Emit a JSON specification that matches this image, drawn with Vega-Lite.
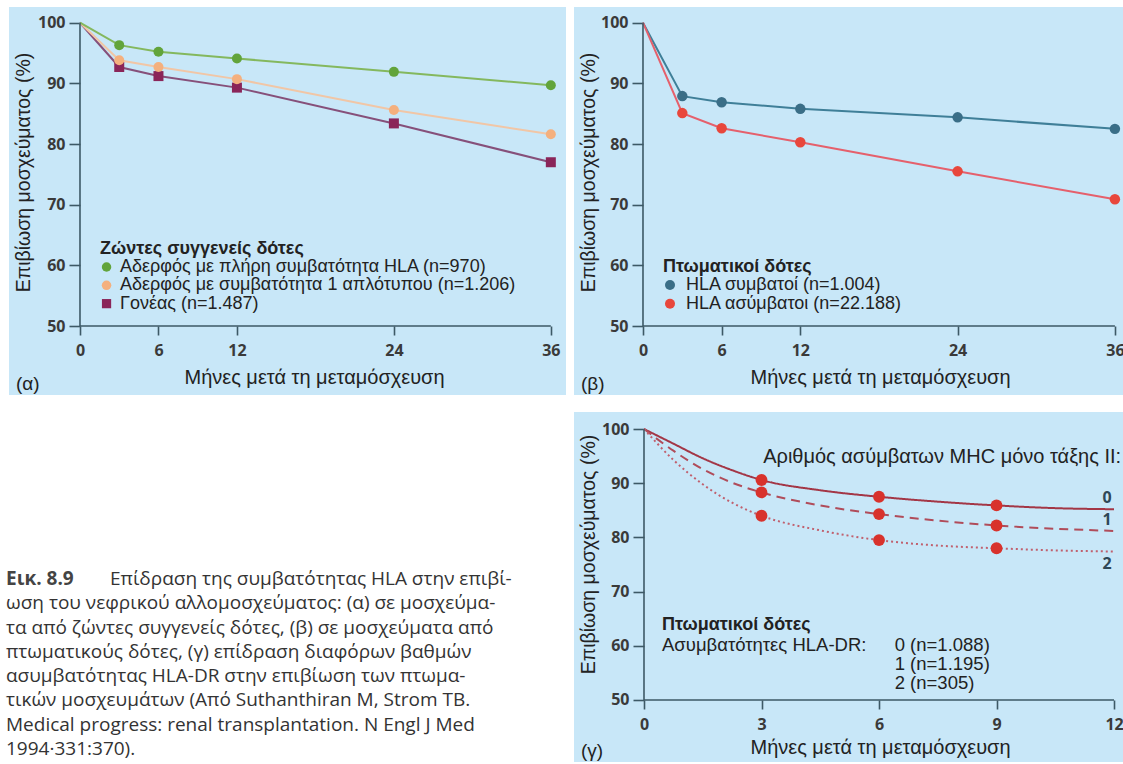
{
  "$schema": "https://vega.github.io/schema/vega-lite/v6.json",
  "background": "white",
  "padding": {"left": 6, "top": 7, "right": 0, "bottom": 0},
  "config": {
    "view": {"stroke": null},
    "font": "Liberation Sans",
    "axis": {"domain": false, "grid": false, "tickColor": "#3d5966", "tickWidth": 1.6, "labelFont": "Open Sans", "labelFontWeight": "bold", "labelFontSize": 16, "labelColor": "#3a3a3a", "titleFont": "Liberation Sans", "titleFontSize": 20, "titleFontWeight": "normal", "titleColor": "#222", "titleBaseline": "middle", "titleAlign": "center"},
    "axisX": {"tickSize": 9, "labelPadding": 7},
    "axisY": {"tickSize": 11, "labelPadding": 4, "titleAngle": -90, "titleFontSize": 19.5},
    "text": {"font": "Liberation Sans", "color": "#222", "align": "left", "baseline": "middle"}
  },
  "columns": 2,
  "align": "each",
  "spacing": {"row": 17, "column": 8},
  "resolve": {"scale": {"color": "independent", "stroke": "independent", "shape": "independent", "strokeDash": "independent"}},
  "datasets": {
    "alpha": [
      {"s": "Γονέας (n=1.487)", "m": 0, "v": 100},
      {"s": "Γονέας (n=1.487)", "m": 3, "v": 92.7},
      {"s": "Γονέας (n=1.487)", "m": 6, "v": 91.2},
      {"s": "Γονέας (n=1.487)", "m": 12, "v": 89.3},
      {"s": "Γονέας (n=1.487)", "m": 24, "v": 83.4},
      {"s": "Γονέας (n=1.487)", "m": 36, "v": 77.0},
      {"s": "Αδερφός με συμβατότητα 1 απλότυπου (n=1.206)", "m": 0, "v": 100},
      {"s": "Αδερφός με συμβατότητα 1 απλότυπου (n=1.206)", "m": 3, "v": 93.8},
      {"s": "Αδερφός με συμβατότητα 1 απλότυπου (n=1.206)", "m": 6, "v": 92.7},
      {"s": "Αδερφός με συμβατότητα 1 απλότυπου (n=1.206)", "m": 12, "v": 90.7},
      {"s": "Αδερφός με συμβατότητα 1 απλότυπου (n=1.206)", "m": 24, "v": 85.6},
      {"s": "Αδερφός με συμβατότητα 1 απλότυπου (n=1.206)", "m": 36, "v": 81.6},
      {"s": "Αδερφός με πλήρη συμβατότητα HLA (n=970)", "m": 0, "v": 100},
      {"s": "Αδερφός με πλήρη συμβατότητα HLA (n=970)", "m": 3, "v": 96.3},
      {"s": "Αδερφός με πλήρη συμβατότητα HLA (n=970)", "m": 6, "v": 95.2},
      {"s": "Αδερφός με πλήρη συμβατότητα HLA (n=970)", "m": 12, "v": 94.1},
      {"s": "Αδερφός με πλήρη συμβατότητα HLA (n=970)", "m": 24, "v": 91.9},
      {"s": "Αδερφός με πλήρη συμβατότητα HLA (n=970)", "m": 36, "v": 89.7}
    ],
    "beta": [
      {"s": "HLA συμβατοί (n=1.004)", "m": 0, "v": 100},
      {"s": "HLA συμβατοί (n=1.004)", "m": 3, "v": 87.9},
      {"s": "HLA συμβατοί (n=1.004)", "m": 6, "v": 86.9},
      {"s": "HLA συμβατοί (n=1.004)", "m": 12, "v": 85.8},
      {"s": "HLA συμβατοί (n=1.004)", "m": 24, "v": 84.4},
      {"s": "HLA συμβατοί (n=1.004)", "m": 36, "v": 82.5},
      {"s": "HLA ασύμβατοι (n=22.188)", "m": 0, "v": 100},
      {"s": "HLA ασύμβατοι (n=22.188)", "m": 3, "v": 85.1},
      {"s": "HLA ασύμβατοι (n=22.188)", "m": 6, "v": 82.6},
      {"s": "HLA ασύμβατοι (n=22.188)", "m": 12, "v": 80.3},
      {"s": "HLA ασύμβατοι (n=22.188)", "m": 24, "v": 75.5},
      {"s": "HLA ασύμβατοι (n=22.188)", "m": 36, "v": 70.9}
    ],
    "gamma": [
      {"s": "0", "m": 0, "v": 100},
      {"s": "0", "m": 0.75, "v": 97.3},
      {"s": "0", "m": 1.5, "v": 94.6},
      {"s": "0", "m": 2.25, "v": 92.4},
      {"s": "0", "m": 3, "v": 90.6},
      {"s": "0", "m": 4.5, "v": 88.7},
      {"s": "0", "m": 6, "v": 87.5},
      {"s": "0", "m": 7.5, "v": 86.6},
      {"s": "0", "m": 9, "v": 85.9},
      {"s": "0", "m": 10.5, "v": 85.4},
      {"s": "0", "m": 12, "v": 85.2},
      {"s": "1", "m": 0, "v": 100},
      {"s": "1", "m": 0.75, "v": 96.0},
      {"s": "1", "m": 1.5, "v": 92.6},
      {"s": "1", "m": 2.25, "v": 90.1},
      {"s": "1", "m": 3, "v": 88.3},
      {"s": "1", "m": 4.5, "v": 85.9},
      {"s": "1", "m": 6, "v": 84.3},
      {"s": "1", "m": 7.5, "v": 83.1},
      {"s": "1", "m": 9, "v": 82.2},
      {"s": "1", "m": 10.5, "v": 81.6},
      {"s": "1", "m": 12, "v": 81.2},
      {"s": "2", "m": 0, "v": 100},
      {"s": "2", "m": 0.75, "v": 94.3},
      {"s": "2", "m": 1.5, "v": 89.8},
      {"s": "2", "m": 2.25, "v": 86.4},
      {"s": "2", "m": 3, "v": 84.0},
      {"s": "2", "m": 4.5, "v": 81.3},
      {"s": "2", "m": 6, "v": 79.5},
      {"s": "2", "m": 7.5, "v": 78.5},
      {"s": "2", "m": 9, "v": 78.0},
      {"s": "2", "m": 10.5, "v": 77.6},
      {"s": "2", "m": 12, "v": 77.4}
    ],
    "caption": [
      {"line": 1, "part": "label", "text": "Εικ. 8.9"},
      {"line": 1, "part": "first", "text": "Επίδραση της συμβατότητας HLA στην επιβί-"},
      {"line": 2, "part": "body", "text": "ωση του νεφρικού αλλομοσχεύματος: (α) σε μοσχεύμα-"},
      {"line": 3, "part": "body", "text": "τα από ζώντες συγγενείς δότες, (β) σε μοσχεύματα από"},
      {"line": 4, "part": "body", "text": "πτωματικούς δότες, (γ) επίδραση διαφόρων βαθμών"},
      {"line": 5, "part": "body", "text": "ασυμβατότητας HLA-DR στην επιβίωση των πτωμα-"},
      {"line": 6, "part": "body", "text": "τικών μοσχευμάτων (Από Suthanthiran M, Strom TB."},
      {"line": 7, "part": "body", "text": "Medical progress: renal transplantation. N Engl J Med"},
      {"line": 8, "part": "body", "text": "1994·331:370)."}
    ]
  },
  "concat": [
    {
      "width": 557, "height": 388,
      "view": {"fill": "#c8e7f8", "stroke": null},
      "title": {"text": "(α)", "orient": "bottom", "anchor": "start", "frame": "group", "offset": -20, "dx": 7, "fontSize": 19, "fontWeight": "normal", "font": "Liberation Sans", "color": "#222"},
      "layer": [
        {
          "data": {"name": "alpha"},
          "mark": {"type": "line", "strokeWidth": 2},
          "encoding": {
            "x": {"field": "m", "type": "quantitative", "scale": {"domain": [-5.428, 37.16], "nice": false, "zero": false},
              "axis": {"offset": -69, "values": [0, 6, 12, 24, 36], "title": "Μήνες μετά τη μεταμόσχευση", "titleX": 305, "titleY": 51}},
            "y": {"field": "v", "type": "quantitative", "scale": {"domain": [38.63, 102.59], "nice": false, "zero": false},
              "axis": {"offset": -71, "values": [50, 60, 70, 80, 90, 100], "title": "Επιβίωση μοσχεύματος (%)", "titleX": -57, "titleY": 165}},
            "stroke": {"field": "s", "type": "nominal", "scale": {"domain": ["Αδερφός με πλήρη συμβατότητα HLA (n=970)", "Αδερφός με συμβατότητα 1 απλότυπου (n=1.206)", "Γονέας (n=1.487)"], "range": ["#84b85e", "#f1c6a6", "#86507a"]}, "legend": null}
          }
        },
        {
          "data": {"values": [{}]},
          "mark": {"type": "rule", "color": "#3d5966", "strokeWidth": 1.6},
          "encoding": {"x": {"datum": 0, "type": "quantitative"}, "y": {"datum": 50, "type": "quantitative"}, "y2": {"datum": 100}}
        },
        {
          "data": {"values": [{}]},
          "mark": {"type": "rule", "color": "#3d5966", "strokeWidth": 1.6},
          "encoding": {"x": {"datum": 0, "type": "quantitative"}, "x2": {"datum": 36}, "y": {"datum": 50, "type": "quantitative"}}
        },
        {
          "data": {"name": "alpha"},
          "transform": [{"filter": "datum.m > 0"}],
          "mark": {"type": "point", "filled": true, "opacity": 1, "size": 100},
          "encoding": {
            "x": {"field": "m", "type": "quantitative"},
            "y": {"field": "v", "type": "quantitative"},
            "color": {"field": "s", "type": "nominal", "scale": {"domain": ["Αδερφός με πλήρη συμβατότητα HLA (n=970)", "Αδερφός με συμβατότητα 1 απλότυπου (n=1.206)", "Γονέας (n=1.487)"], "range": ["#62a43b", "#f4b07e", "#8a2559"]}, "legend": null},
            "shape": {"field": "s", "type": "nominal", "scale": {"domain": ["Αδερφός με πλήρη συμβατότητα HLA (n=970)", "Αδερφός με συμβατότητα 1 απλότυπου (n=1.206)", "Γονέας (n=1.487)"], "range": ["circle", "circle", "square"]}, "legend": null}
          }
        },
        {
          "data": {"values": [{}]},
          "mark": {"type": "text", "text": "Ζώντες συγγενείς δότες", "fontSize": 18, "fontWeight": "bold"},
          "encoding": {"x": {"datum": 1.53, "type": "quantitative"}, "y": {"datum": 62.75, "type": "quantitative"}}
        },
        {
          "data": {"values": [{}]},
          "mark": {"type": "text", "text": ["Αδερφός με πλήρη συμβατότητα HLA (n=970)", "Αδερφός με συμβατότητα 1 απλότυπου (n=1.206)", "Γονέας (n=1.487)"], "fontSize": 18, "lineHeight": 18.3},
          "encoding": {"x": {"datum": 3.06, "type": "quantitative"}, "y": {"datum": 59.73, "type": "quantitative"}}
        },
        {
          "data": {"values": [{}]},
          "mark": {"type": "point", "shape": "circle", "filled": true, "opacity": 1, "size": 90, "color": "#62a43b"},
          "encoding": {"x": {"datum": 2.03, "type": "quantitative"}, "y": {"datum": 59.73, "type": "quantitative"}}
        },
        {
          "data": {"values": [{}]},
          "mark": {"type": "point", "shape": "circle", "filled": true, "opacity": 1, "size": 90, "color": "#f4b07e"},
          "encoding": {"x": {"datum": 2.03, "type": "quantitative"}, "y": {"datum": 56.71, "type": "quantitative"}}
        },
        {
          "data": {"values": [{}]},
          "mark": {"type": "point", "shape": "square", "filled": true, "opacity": 1, "size": 85, "color": "#8a2559"},
          "encoding": {"x": {"datum": 2.03, "type": "quantitative"}, "y": {"datum": 53.69, "type": "quantitative"}}
        }
      ]
    },
    {
      "width": 551, "height": 388,
      "view": {"fill": "#c8e7f8", "stroke": null},
      "title": {"text": "(β)", "orient": "bottom", "anchor": "start", "frame": "group", "offset": -20, "dx": 7, "fontSize": 19, "fontWeight": "normal", "font": "Liberation Sans", "color": "#222"},
      "layer": [
        {
          "data": {"name": "beta"},
          "mark": {"type": "line", "strokeWidth": 2},
          "encoding": {
            "x": {"field": "m", "type": "quantitative", "scale": {"domain": [-5.263, 36.77], "nice": false, "zero": false},
              "axis": {"offset": -69, "values": [0, 6, 12, 24, 36], "title": "Μήνες μετά τη μεταμόσχευση", "titleX": 306, "titleY": 51}},
            "y": {"field": "v", "type": "quantitative", "scale": {"domain": [38.63, 102.59], "nice": false, "zero": false},
              "axis": {"offset": -69, "values": [50, 60, 70, 80, 90, 100], "title": "Επιβίωση μοσχεύματος (%)", "titleX": -55, "titleY": 165}},
            "stroke": {"field": "s", "type": "nominal", "scale": {"domain": ["HLA συμβατοί (n=1.004)", "HLA ασύμβατοι (n=22.188)"], "range": ["#3f7f98", "#e5606c"]}, "legend": null}
          }
        },
        {
          "data": {"values": [{}]},
          "mark": {"type": "rule", "color": "#3d5966", "strokeWidth": 1.6},
          "encoding": {"x": {"datum": 0, "type": "quantitative"}, "y": {"datum": 50, "type": "quantitative"}, "y2": {"datum": 100}}
        },
        {
          "data": {"values": [{}]},
          "mark": {"type": "rule", "color": "#3d5966", "strokeWidth": 1.6},
          "encoding": {"x": {"datum": 0, "type": "quantitative"}, "x2": {"datum": 36}, "y": {"datum": 50, "type": "quantitative"}}
        },
        {
          "data": {"name": "beta"},
          "transform": [{"filter": "datum.m > 0"}],
          "mark": {"type": "point", "filled": true, "opacity": 1, "size": 110, "shape": "circle"},
          "encoding": {
            "x": {"field": "m", "type": "quantitative"},
            "y": {"field": "v", "type": "quantitative"},
            "color": {"field": "s", "type": "nominal", "scale": {"domain": ["HLA συμβατοί (n=1.004)", "HLA ασύμβατοι (n=22.188)"], "range": ["#3a6e87", "#e8473c"]}, "legend": null}
          }
        },
        {
          "data": {"values": [{}]},
          "mark": {"type": "text", "text": "Πτωματικοί δότες", "fontSize": 18, "fontWeight": "bold"},
          "encoding": {"x": {"datum": 1.53, "type": "quantitative"}, "y": {"datum": 59.73, "type": "quantitative"}}
        },
        {
          "data": {"values": [{}]},
          "mark": {"type": "text", "text": ["HLA συμβατοί (n=1.004)", "HLA ασύμβατοι (n=22.188)"], "fontSize": 18, "lineHeight": 18.8},
          "encoding": {"x": {"datum": 3.28, "type": "quantitative"}, "y": {"datum": 56.76, "type": "quantitative"}}
        },
        {
          "data": {"values": [{}]},
          "mark": {"type": "point", "shape": "circle", "filled": true, "opacity": 1, "size": 100, "color": "#3a6e87"},
          "encoding": {"x": {"datum": 2.06, "type": "quantitative"}, "y": {"datum": 56.76, "type": "quantitative"}}
        },
        {
          "data": {"values": [{}]},
          "mark": {"type": "point", "shape": "circle", "filled": true, "opacity": 1, "size": 100, "color": "#e8473c"},
          "encoding": {"x": {"datum": 2.06, "type": "quantitative"}, "y": {"datum": 53.66, "type": "quantitative"}}
        }
      ]
    },
    {
      "width": 557, "height": 350,
      "data": {"name": "caption"},
      "layer": [
        {
          "transform": [{"filter": "datum.part == 'label'"}],
          "mark": {"type": "text", "font": "Open Sans", "fontSize": 19, "fontWeight": "bold", "color": "#444", "dx": -3},
          "encoding": {
            "x": {"datum": 0, "type": "quantitative", "scale": {"domain": [0, 1]}, "axis": null},
            "y": {"field": "line", "type": "quantitative", "scale": {"domain": [-5.872, 8.531], "reverse": true, "nice": false, "zero": false}, "axis": null},
            "text": {"field": "text"}
          }
        },
        {
          "transform": [{"filter": "datum.part == 'first'"}],
          "mark": {"type": "text", "font": "Open Sans", "fontSize": 19, "color": "#333", "dx": 101},
          "encoding": {
            "x": {"datum": 0, "type": "quantitative"},
            "y": {"field": "line", "type": "quantitative"},
            "text": {"field": "text"}
          }
        },
        {
          "transform": [{"filter": "datum.part == 'body'"}],
          "mark": {"type": "text", "font": "Open Sans", "fontSize": 19, "color": "#333", "dx": -3},
          "encoding": {
            "x": {"datum": 0, "type": "quantitative"},
            "y": {"field": "line", "type": "quantitative"},
            "text": {"field": "text"}
          }
        }
      ]
    },
    {
      "width": 551, "height": 350,
      "view": {"fill": "#c8e7f8", "stroke": null},
      "title": {"text": "(γ)", "orient": "bottom", "anchor": "start", "frame": "group", "offset": -20, "dx": 7, "fontSize": 19, "fontWeight": "normal", "font": "Liberation Sans", "color": "#222"},
      "layer": [
        {
          "data": {"name": "gamma"},
          "mark": {"type": "line", "strokeWidth": 2, "interpolate": "monotone"},
          "encoding": {
            "x": {"field": "m", "type": "quantitative", "scale": {"domain": [-1.787, 12.28], "nice": false, "zero": false},
              "axis": {"offset": -62, "values": [0, 3, 6, 9, 12], "title": "Μήνες μετά τη μεταμόσχευση", "titleX": 306, "titleY": 47}},
            "y": {"field": "v", "type": "quantitative", "scale": {"domain": [38.56, 103.14], "nice": false, "zero": false},
              "axis": {"offset": -70, "values": [50, 60, 70, 80, 90, 100], "title": "Επιβίωση μοσχεύματος (%)", "titleX": -56, "titleY": 142}},
            "stroke": {"field": "s", "type": "nominal", "scale": {"domain": ["0", "1", "2"], "range": ["#a33646", "#b04c5a", "#c0606e"]}, "legend": null},
            "strokeDash": {"field": "s", "type": "nominal", "scale": {"domain": ["0", "1", "2"], "range": [[1, 0], [9, 6], [2, 3]]}, "legend": null}
          }
        },
        {
          "data": {"values": [{}]},
          "mark": {"type": "rule", "color": "#3d5966", "strokeWidth": 1.6},
          "encoding": {"x": {"datum": 0, "type": "quantitative"}, "y": {"datum": 50, "type": "quantitative"}, "y2": {"datum": 100}}
        },
        {
          "data": {"values": [{}]},
          "mark": {"type": "rule", "color": "#3d5966", "strokeWidth": 1.6},
          "encoding": {"x": {"datum": 0, "type": "quantitative"}, "x2": {"datum": 12}, "y": {"datum": 50, "type": "quantitative"}}
        },
        {
          "data": {"name": "gamma"},
          "transform": [{"filter": {"field": "m", "oneOf": [3, 6, 9]}}],
          "mark": {"type": "circle", "size": 140, "color": "#d8322c", "opacity": 1},
          "encoding": {"x": {"field": "m", "type": "quantitative"}, "y": {"field": "v", "type": "quantitative"}}
        },
        {
          "data": {"name": "gamma"},
          "transform": [{"filter": "datum.m == 12 && datum.s != '2'"}],
          "mark": {"type": "text", "font": "Open Sans", "fontWeight": "bold", "fontSize": 16, "color": "#2f4857", "baseline": "bottom", "align": "center", "dx": -7, "dy": -3},
          "encoding": {"x": {"field": "m", "type": "quantitative"}, "y": {"field": "v", "type": "quantitative"}, "text": {"field": "s"}}
        },
        {
          "data": {"name": "gamma"},
          "transform": [{"filter": "datum.m == 12 && datum.s == '2'"}],
          "mark": {"type": "text", "font": "Open Sans", "fontWeight": "bold", "fontSize": 16, "color": "#2f4857", "baseline": "top", "align": "center", "dx": -7, "dy": 4},
          "encoding": {"x": {"field": "m", "type": "quantitative"}, "y": {"field": "v", "type": "quantitative"}, "text": {"field": "s"}}
        },
        {
          "data": {"values": [{}]},
          "mark": {"type": "text", "text": "Αριθμός ασύμβατων MHC μόνο τάξης II:", "fontSize": 20, "align": "right"},
          "encoding": {"x": {"datum": 12.18, "type": "quantitative"}, "y": {"datum": 94.9, "type": "quantitative"}}
        },
        {
          "data": {"values": [{}]},
          "mark": {"type": "text", "text": "Πτωματικοί δότες", "fontSize": 18, "fontWeight": "bold"},
          "encoding": {"x": {"datum": 0.46, "type": "quantitative"}, "y": {"datum": 63.75, "type": "quantitative"}}
        },
        {
          "data": {"values": [{}]},
          "mark": {"type": "text", "text": "Ασυμβατότητες HLA-DR:", "fontSize": 18.5},
          "encoding": {"x": {"datum": 0.46, "type": "quantitative"}, "y": {"datum": 60.2, "type": "quantitative"}}
        },
        {
          "data": {"values": [{}]},
          "mark": {"type": "text", "text": ["0 (n=1.088)", "1 (n=1.195)", "2 (n=305)"], "lineHeight": 19, "fontSize": 18.5},
          "encoding": {"x": {"datum": 6.4, "type": "quantitative"}, "y": {"datum": 60.2, "type": "quantitative"}}
        }
      ]
    }
  ]
}
